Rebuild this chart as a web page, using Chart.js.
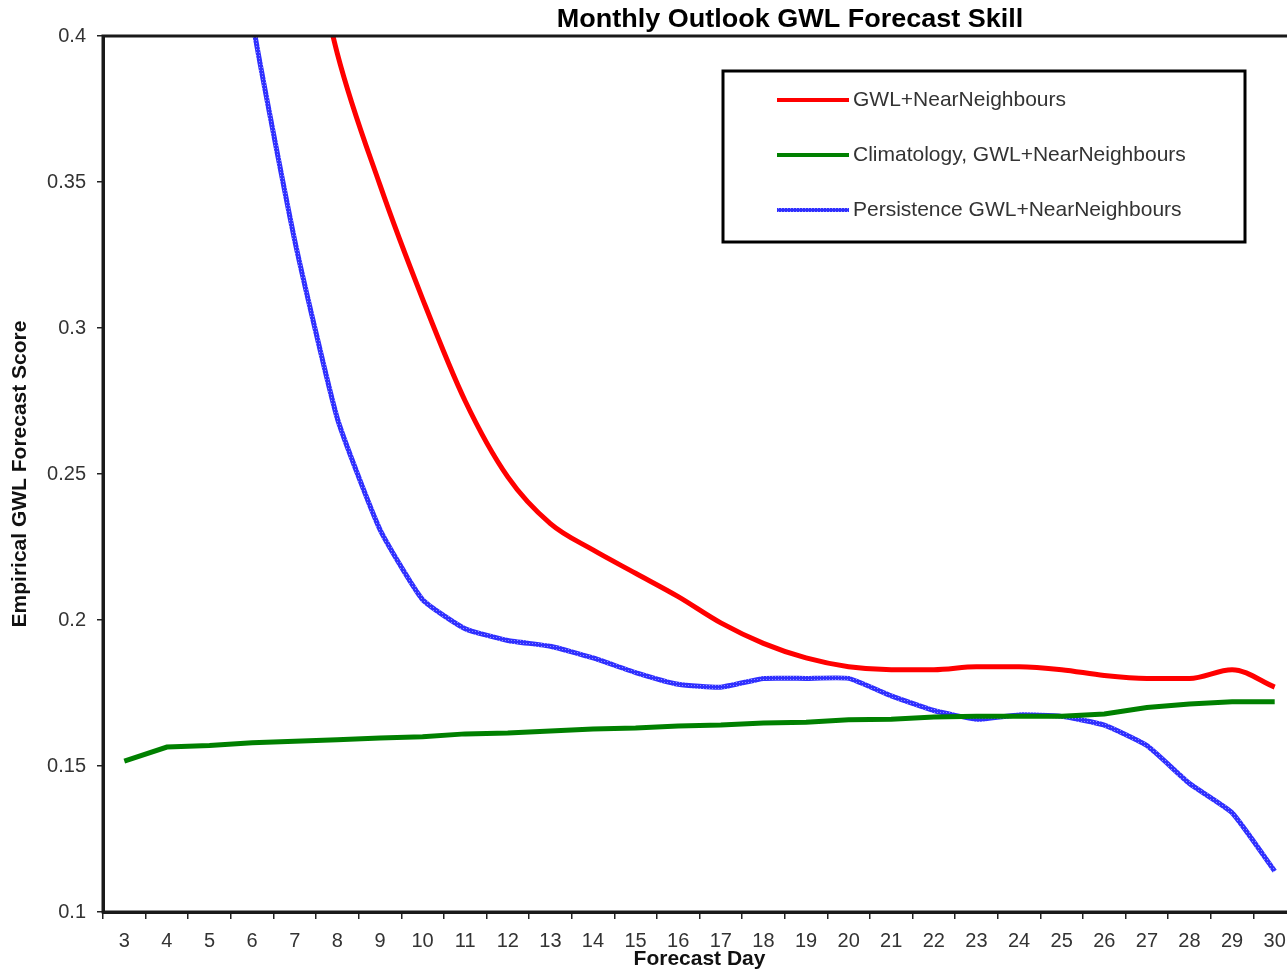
<!DOCTYPE html>
<html>
<head>
<meta charset="utf-8">
<script src="https://cdn.jsdelivr.net/npm/chart.js@4/dist/chart.umd.min.js"></script>
<style>
  html, body { margin: 0; padding: 0; background: #fff; overflow: hidden; }
  #chart { display: block; }
</style>
</head>
<body>
<canvas id="chart" width="1300" height="972"></canvas>
<script>
// forecast days on the x axis
var days = ['3','4','5','6','7','8','9','10','11','12','13','14','15','16','17','18','19','20','21','22','23','24','25','26','27','28','29','30'];

// y axis ticks
var yTicks = [0.1, 0.15, 0.2, 0.25, 0.3, 0.35, 0.4];

// series (null = above the plotted range, not readable)
var gwlNear = [null, null, null, null, 0.46, 0.394, 0.349, 0.310, 0.275, 0.249, 0.233, 0.224, 0.216, 0.208,
               0.199, 0.192, 0.187, 0.184, 0.183, 0.183, 0.184, 0.184, 0.183, 0.181, 0.180, 0.180, 0.183, 0.177];
var climatology = [0.1517, 0.1565, 0.157, 0.158, 0.1585, 0.159, 0.1596, 0.160, 0.161, 0.1613, 0.162, 0.1627, 0.163, 0.1637,
                   0.164, 0.1647, 0.165, 0.1658, 0.166, 0.1668, 0.167, 0.167, 0.167, 0.1678, 0.170, 0.1712, 0.172, 0.172];
var persistence = [null, null, 0.52, 0.406, 0.330, 0.269, 0.231, 0.207, 0.197, 0.193, 0.191, 0.187, 0.182, 0.178,
                   0.177, 0.180, 0.180, 0.180, 0.174, 0.169, 0.166, 0.1675, 0.167, 0.164, 0.157, 0.144, 0.134, 0.114];

var FONT = "'Liberation Sans', Arial, sans-serif";

// textured blue like the excel "dotted" thick line
function bluePattern(){
    var c = document.createElement('canvas');
    c.width = 3; c.height = 3;
    var x = c.getContext('2d');
    x.fillStyle = '#3030ff';
    x.fillRect(0, 0, 3, 3);
    x.fillStyle = '#8c8cff';
    x.fillRect(1, 1, 1, 1);
    return x.createPattern(c, 'repeat');
}

// frame round the plot area
var framePlugin = {
    id: 'frame',
    afterDatasetsDraw: function(chart){
        var a = chart.chartArea, ctx = chart.ctx;
        ctx.save();
        ctx.strokeStyle = '#1a1a1a';
        ctx.lineWidth = 3;
        ctx.strokeRect(a.left, a.top, a.right - a.left, a.bottom - a.top);
        ctx.restore();
    }
};

// title, placed like the original (text is a bit wide there)
var titlePlugin = {
    id: 'sheetTitle',
    afterDraw: function(chart){
        var a = chart.chartArea, ctx = chart.ctx;
        ctx.save();
        ctx.translate(a.left + 687, 20);
        ctx.scale(1.08, 1);
        ctx.font = 'bold 25px ' + FONT;
        ctx.fillStyle = '#000';
        ctx.textAlign = 'center';
        ctx.textBaseline = 'middle';
        ctx.fillText('Monthly Outlook GWL Forecast Skill', 0, 0);
        ctx.restore();
    }
};

// boxed legend in the top right
var boxLegend = {
    id: 'boxLegend',
    afterDraw: function(chart){
        var a = chart.chartArea, ctx = chart.ctx;
        var bx = a.left + 620, by = a.top + 35, bw = 522, bh = 171;
        ctx.save();
        ctx.strokeStyle = '#000';
        ctx.lineWidth = 3;
        ctx.strokeRect(bx, by, bw, bh);
        ctx.font = '21px ' + FONT;
        ctx.textBaseline = 'middle';
        chart.data.datasets.forEach(function(ds, i){
            var y = by + 29 + i * 55;
            ctx.strokeStyle = ds.borderColor;
            ctx.lineWidth = 4;
            ctx.beginPath();
            ctx.moveTo(bx + 54, y);
            ctx.lineTo(bx + 126, y);
            ctx.stroke();
            ctx.fillStyle = '#333';
            ctx.fillText(ds.label, bx + 130, y);
        });
        ctx.restore();
    }
};

var canvas = document.getElementById('chart');
var chart = new Chart(canvas, {
    type: 'line',
    data: {
        labels: days,
        datasets: [
            {
                label: 'GWL+NearNeighbours',
                data: gwlNear,
                borderColor: '#ff0000',
                borderWidth: 5,
                cubicInterpolationMode: 'monotone',
                pointRadius: 0
            },
            {
                label: 'Climatology, GWL+NearNeighbours',
                data: climatology,
                borderColor: '#008000',
                borderWidth: 5,
                tension: 0,
                pointRadius: 0
            },
            {
                label: 'Persistence GWL+NearNeighbours',
                data: persistence,
                borderColor: bluePattern(),
                borderWidth: 5,
                tension: 0.15,
                pointRadius: 0
            }
        ]
    },
    options: {
        responsive: false,
        animation: false,
        devicePixelRatio: 1,
        layout: { padding: { top: 36, right: 4, left: 0, bottom: 0 } },
        plugins: {
            legend: { display: false },
            title: { display: false },
            tooltip: { enabled: false }
        },
        scales: {
            x: {
                type: 'category',
                offset: true,
                afterFit: function(s){ s.height = 60; },
                grid: { offset: true, drawOnChartArea: false, color: '#222', lineWidth: 1.5, tickLength: 7 },
                border: { display: true, color: '#1a1a1a', width: 3 },
                ticks: { color: '#333', font: { family: FONT, size: 20 }, padding: 10, maxRotation: 0, autoSkip: false },
                title: { display: true, text: 'Forecast Day', color: '#111', font: { family: FONT, size: 21, weight: 'bold' }, padding: { top: 0, bottom: 0 } }
            },
            y: {
                min: 0.1,
                max: 0.4,
                afterFit: function(s){ s.width = 103; },
                afterBuildTicks: function(s){ s.ticks = yTicks.map(function(v){ return { value: v }; }); },
                grid: { drawOnChartArea: false, color: '#222', lineWidth: 1.5, tickLength: 6 },
                border: { display: true, color: '#1a1a1a', width: 3 },
                ticks: {
                    color: '#333',
                    font: { family: FONT, size: 20 },
                    padding: 11,
                    callback: function(v){ return String(Math.round(v * 100) / 100); }
                },
                title: { display: true, text: 'Empirical GWL Forecast Score', color: '#111', font: { family: FONT, size: 21, weight: 'bold' }, padding: { top: 8, bottom: 0 } }
            }
        }
    },
    plugins: [framePlugin, titlePlugin, boxLegend]
});
</script>
</body>
</html>
